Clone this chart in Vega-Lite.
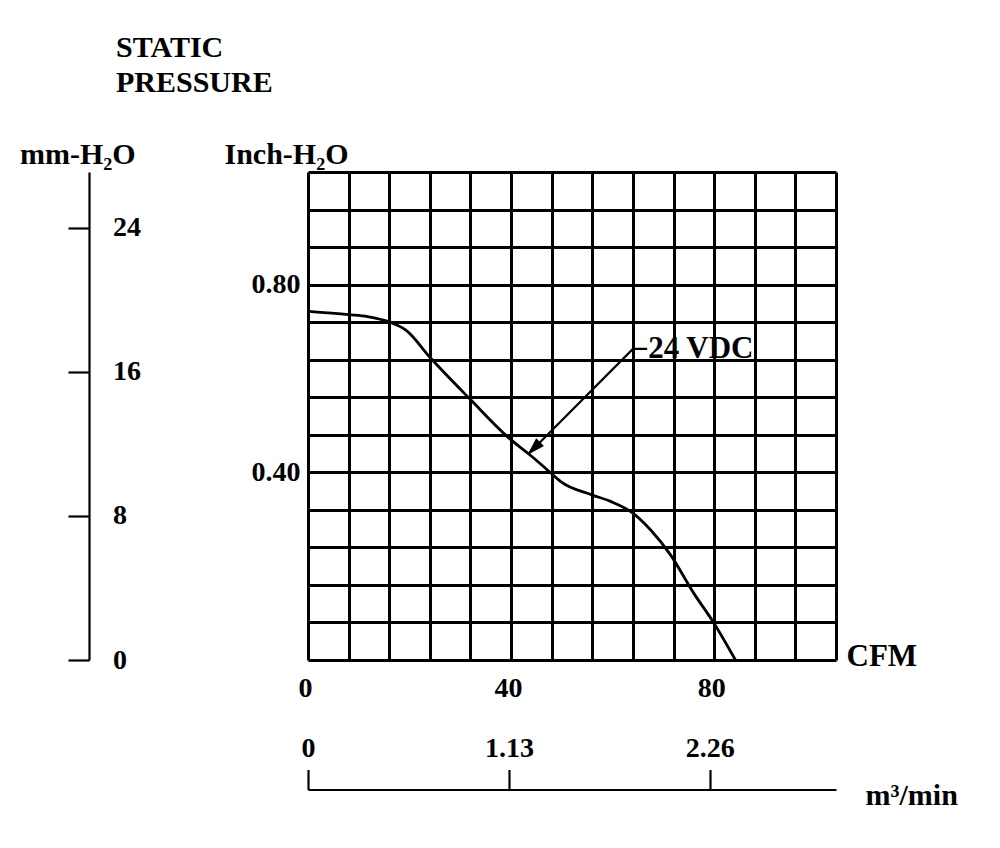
{
  "$schema": "https://vega.github.io/schema/vega-lite/v6.json",
  "width": 528,
  "height": 488,
  "autosize": {"type": "none"},
  "padding": {"left": 308, "top": 172, "right": 164, "bottom": 188},
  "background": "white",
  "title": {
    "text": ["STATIC", "PRESSURE"],
    "anchor": "start",
    "frame": "group",
    "orient": "top",
    "dx": -192,
    "offset": 17,
    "baseline": "alphabetic",
    "fontSize": 30,
    "font": "Liberation Serif",
    "fontWeight": "bold",
    "color": "black",
    "lineHeight": 35.5
  },
  "datasets": {
    "curve": [
      {"cfm": 0, "pressure": 0.743},
      {"cfm": 8, "pressure": 0.736},
      {"cfm": 11.7, "pressure": 0.732},
      {"cfm": 16.1, "pressure": 0.72},
      {"cfm": 19.4, "pressure": 0.702},
      {"cfm": 24.1, "pressure": 0.644},
      {"cfm": 32.0, "pressure": 0.555},
      {"cfm": 40.0, "pressure": 0.469},
      {"cfm": 43.5, "pressure": 0.439},
      {"cfm": 47.9, "pressure": 0.398},
      {"cfm": 49.8, "pressure": 0.38},
      {"cfm": 55.9, "pressure": 0.352},
      {"cfm": 59.6, "pressure": 0.338},
      {"cfm": 64.0, "pressure": 0.313},
      {"cfm": 67.5, "pressure": 0.277},
      {"cfm": 71.4, "pressure": 0.224},
      {"cfm": 76.0, "pressure": 0.142},
      {"cfm": 80.0, "pressure": 0.078},
      {"cfm": 84.2, "pressure": 0}
    ],
    "leader": [
      {"cfm": 66.8, "pressure": 0.663},
      {"cfm": 64.0, "pressure": 0.663},
      {"cfm": 43.6, "pressure": 0.441}
    ],
    "arrow": [
      {"cfm": 43.2, "pressure": 0.437}
    ],
    "label": [
      {"cfm": 67.0, "pressure": 0.644, "text": "24 VDC"}
    ],
    "alt": [
      {"m3": 0, "mm": 0},
      {"m3": 1.13, "mm": 8},
      {"m3": 2.26, "mm": 16},
      {"m3": 2.26, "mm": 24}
    ]
  },
  "layer": [
    {
      "encoding": {
        "x": {
          "field": "cfm",
          "type": "quantitative",
          "scale": {"domain": [0, 104], "nice": false, "zero": false},
          "axis": {
            "orient": "bottom",
            "values": [0, 8, 16, 24, 32, 40, 48, 56, 64, 72, 80, 88, 96, 104],
            "labelExpr": "datum.value % 40 == 0 ? format(datum.value, 'd') : ''",
            "grid": true,
            "gridColor": "black",
            "gridOpacity": 1,
            "gridWidth": 3,
            "domain": false,
            "ticks": false,
            "labelFlush": false,
            "labelOverlap": false,
            "labelBound": false,
            "labelPadding": 14,
            "labelOffset": -3,
            "labelBaseline": "top",
            "title": "CFM",
            "titleAngle": 0,
            "titleAlign": "left",
            "titleBaseline": "alphabetic",
            "titleX": 538,
            "titleY": 5,
            "titleFontSize": 31
          }
        },
        "y": {
          "field": "pressure",
          "type": "quantitative",
          "scale": {"domain": [0, 1.04], "nice": false, "zero": false},
          "axis": {
            "orient": "left",
            "values": [0, 0.08, 0.16, 0.24, 0.32, 0.4, 0.48, 0.56, 0.64, 0.72, 0.8, 0.88, 0.96, 1.04],
            "labelExpr": "(datum.value == 0.4 || datum.value == 0.8) ? format(datum.value, '.2f') : ''",
            "grid": true,
            "gridColor": "black",
            "gridOpacity": 1,
            "gridWidth": 3,
            "domain": false,
            "ticks": false,
            "labelOverlap": false,
            "labelBound": false,
            "labelPadding": 8,
            "title": "Inch-H₂O",
            "titleAngle": 0,
            "titleAlign": "left",
            "titleBaseline": "alphabetic",
            "titleX": -84,
            "titleY": -9
          }
        }
      },
      "layer": [
        {
          "data": {"name": "curve"},
          "mark": {"type": "line", "color": "black", "strokeWidth": 2.8, "interpolate": "monotone"}
        },
        {
          "data": {"name": "leader"},
          "mark": {"type": "line", "color": "black", "strokeWidth": 2.2}
        },
        {
          "data": {"name": "arrow"},
          "mark": {"type": "point", "shape": "M0,0L0.55,1.8L-0.55,1.8Z", "filled": true, "color": "black", "opacity": 1, "size": 400, "angle": 225}
        },
        {
          "data": {"name": "label"},
          "mark": {"type": "text", "align": "left", "baseline": "alphabetic", "fontSize": 31, "fontWeight": "bold", "font": "Liberation Serif", "color": "black"},
          "encoding": {"text": {"field": "text"}}
        }
      ]
    },
    {
      "data": {"name": "alt"},
      "mark": {"type": "point", "opacity": 0},
      "encoding": {
        "x": {
          "field": "m3",
          "type": "quantitative",
          "scale": {"domain": [0, 2.97], "nice": false, "zero": false},
          "axis": {
            "orient": "top",
            "offset": -617.5,
            "values": [0, 1.13, 2.26],
            "labelExpr": "datum.value == 0 ? '0' : format(datum.value, '.2f')",
            "grid": false,
            "domain": true,
            "domainWidth": 2.2,
            "ticks": true,
            "tickSize": 20,
            "tickWidth": 2.2,
            "labelFlush": false,
            "labelOverlap": false,
            "labelBound": false,
            "labelBaseline": "alphabetic",
            "labelPadding": 13,
            "title": "m³/min",
            "titleAngle": 0,
            "titleAlign": "left",
            "titleBaseline": "alphabetic",
            "titleX": 557,
            "titleY": 15,
            "titleFontSize": 30
          }
        },
        "y": {
          "field": "mm",
          "type": "quantitative",
          "scale": {"domain": [0, 27.1], "nice": false, "zero": false},
          "axis": {
            "orient": "left",
            "offset": 219,
            "values": [0, 8, 16, 24],
            "format": "d",
            "grid": false,
            "domain": true,
            "domainWidth": 2.2,
            "ticks": true,
            "tickSize": 21,
            "tickWidth": 2.2,
            "labelAlign": "left",
            "labelPadding": -44.5,
            "labelOverlap": false,
            "labelBound": false,
            "title": "mm-H₂O",
            "titleAngle": 0,
            "titleAlign": "left",
            "titleBaseline": "alphabetic",
            "titleX": -69.5,
            "titleY": -9
          }
        }
      }
    }
  ],
  "resolve": {
    "scale": {"x": "independent", "y": "independent"},
    "axis": {"x": "independent", "y": "independent"}
  },
  "config": {
    "view": {"stroke": null},
    "axis": {
      "labelFont": "Liberation Serif",
      "titleFont": "Liberation Serif",
      "labelFontWeight": "bold",
      "titleFontWeight": "bold",
      "labelColor": "black",
      "titleColor": "black",
      "labelFontSize": 28,
      "titleFontSize": 30,
      "domainColor": "black",
      "tickColor": "black"
    }
  }
}
